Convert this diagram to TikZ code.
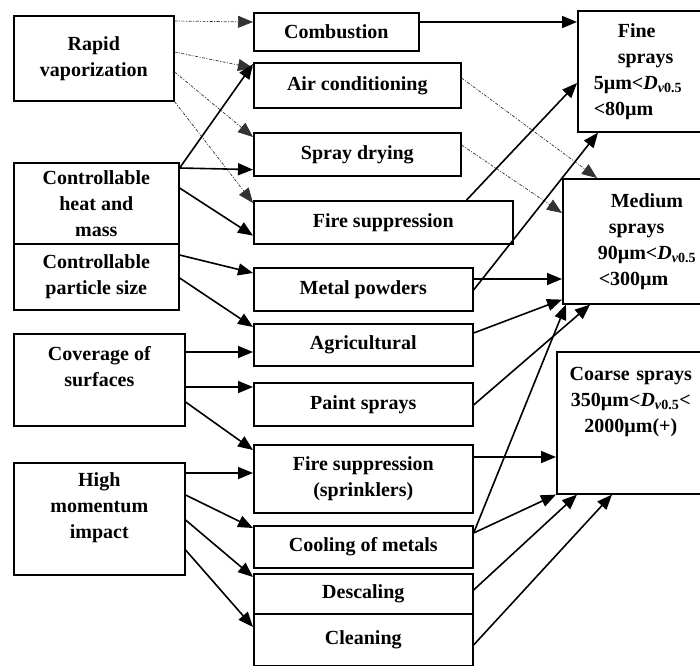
\documentclass[tikz,border=0pt]{standalone}
\usepackage{fontspec}
\setmainfont{Liberation Serif}
\usepackage{tikz}
\usetikzlibrary{
  arrows.meta}

\newcommand{\Dvol}{\textit{D}\textsubscript{\textit{v}0.5}}

\tikzset{
  plainbox/.style={draw, line width=1.6pt, inner sep=2pt, anchor=north west,
    align=center, font=\bfseries\fontsize{20}{26}\selectfont},
  feed/.style={-{Triangle[length=15pt,width=12pt]}, line width=1.6pt},
  vapfeed/.style={feed, line width=0.7pt, black!80,
    dash pattern=on 3pt off 1.5pt on 1pt off 1.5pt}}

\begin{document}
\begin{tikzpicture}[x=1pt,y=-1pt]
  \useasboundingbox (0,0) rectangle (700,665);

  \node[plainbox, minimum width=160pt, minimum height=85pt] (rapid) at (13,15) {Rapid\\vaporization};
  \node[plainbox, minimum width=165pt, minimum height=81pt] (heat) at (13,162) {Controllable\\heat and\\mass};
  \node[plainbox, minimum width=165pt, minimum height=66pt] (psize) at (13,243) {Controllable\\particle size};
  \node[plainbox, minimum width=171pt, minimum height=92pt] (cover) at (13,333) {Coverage of\\surfaces\\ \mbox{}};
  \node[plainbox, minimum width=171pt, minimum height=112pt] (impact) at (13,462) {High\\momentum\\impact\\ \mbox{}};

  \node[plainbox, minimum width=165pt, minimum height=38pt] (comb) at (253,12) {Combustion};
  \node[plainbox, minimum width=207pt, minimum height=45pt] (air) at (253,62) {Air conditioning};
  \node[plainbox, minimum width=207pt, minimum height=43pt] (spraydry) at (253,132) {Spray drying};
  \node[plainbox, minimum width=259pt, minimum height=43pt] (fire) at (253,200) {Fire suppression};
  \node[plainbox, minimum width=219pt, minimum height=43pt] (metal) at (253,267) {Metal powders};
  \node[plainbox, minimum width=219pt, minimum height=42pt] (agri) at (253,323) {Agricultural};
  \node[plainbox, minimum width=219pt, minimum height=43pt] (paint) at (253,382) {Paint sprays};
  \node[plainbox, minimum width=219pt, minimum height=68pt] (sprink) at (253,444) {Fire suppression\\(sprinklers)};
  \node[plainbox, minimum width=219pt, minimum height=42pt] (cool) at (253,525) {Cooling of metals};
  \node[plainbox, minimum width=219pt, minimum height=40pt] (desc) at (253,573) {Descaling};
  \node[plainbox, minimum width=219pt, minimum height=52pt] (clean) at (253,613) {Cleaning};

  \node[plainbox, align=left, text width=120pt, inner xsep=16pt, minimum height=121pt] (fine) at (577,10)
    {\hspace*{24pt}Fine\\\hspace*{24pt}sprays\\5µm<\Dvol\\<80µm};
  \node[plainbox, align=left, text width=110pt, inner xsep=35pt, minimum height=125pt] (med) at (562,178)
    {\hspace*{13pt}Medium\\\hspace*{11pt}sprays\\90µm<\Dvol\\\hspace*{1pt}<300µm};
  \node[plainbox, text width=136pt, inner xsep=6pt, minimum height=142pt] (coarse) at (556,351)
    {Coarse sprays\\350µm<\Dvol<\\2000µm(+)\\[20pt]\mbox{}};

  % rapid vaporization
  \draw[vapfeed] ([yshift=-6pt]rapid.north east) -- ([yshift=-10pt]comb.north west);
  \draw[vapfeed] ([yshift=-37pt]rapid.north east) -- ([yshift=-6pt]air.north west);
  \draw[vapfeed] ([yshift=-57pt]rapid.north east) -- ([yshift=-5pt]spraydry.north west);
  \draw[vapfeed] (rapid.south east) -- ([yshift=-3pt]fire.north west);

  \draw[feed] ([yshift=-6pt]heat.north east) -- ([yshift=-2pt]air.north west);
  \draw[feed] ([yshift=-6pt]heat.north east) -- ([yshift=7pt]spraydry.south west);
  \draw[feed] ([yshift=-26pt]heat.north east) -- ([yshift=9pt]fire.south west);

  \draw[feed] ([yshift=-12pt]psize.north east) -- ([yshift=-6pt]metal.north west);
  \draw[feed] ([yshift=-35pt]psize.north east) -- ([yshift=-4pt]agri.north west);

  \draw[feed] ([yshift=-19pt]cover.north east) -- ([yshift=-29pt]agri.north west);
  \draw[feed] ([yshift=-54pt]cover.north east) -- ([yshift=-5pt]paint.north west);
  \draw[feed] ([yshift=-69pt]cover.north east) -- ([yshift=-6pt]sprink.north west);

  \draw[feed] ([yshift=-11pt]impact.north east) -- ([yshift=-29pt]sprink.north west);
  \draw[feed] ([yshift=-33pt]impact.north east) -- ([yshift=-3pt]cool.north west);
  \draw[feed] ([yshift=-58pt]impact.north east) -- ([yshift=-4pt]desc.north west);
  \draw[feed] ([yshift=-88pt]impact.north east) -- ([yshift=-14pt]clean.north west);

  % applications to drop sizes
  \draw[feed] ([yshift=-10pt]comb.north east) -- ([yshift=-12pt]fine.north west);
  \draw[vapfeed] ([yshift=-16pt]air.north east) -- ([xshift=35pt]med.north west);
  \draw[vapfeed] ([yshift=-13pt]spraydry.north east) -- ([yshift=-35pt]med.north west);
  \draw[feed] ([xshift=-47pt]fire.north east) -- ([yshift=-73pt]fine.north west);
  \draw[feed] ([yshift=-23pt]metal.north east) -- ([xshift=21pt]fine.south west);
  \draw[feed] ([yshift=-12pt]metal.north east) -- ([yshift=-101pt]med.north west);
  \draw[feed] ([yshift=-10pt]agri.north east) -- ([yshift=5pt]med.south west);
  \draw[feed] ([yshift=-23pt]paint.north east) -- ([xshift=28pt]med.south west);
  \draw[feed] ([yshift=-8pt]cool.north east) -- ([xshift=4pt]med.south west);
  \draw[feed] ([yshift=-13pt]sprink.north east) -- ([yshift=-106pt]coarse.north west);
  \draw[feed] ([yshift=-8pt]cool.north east) -- (coarse.south west);
  \draw[feed] ([yshift=-17pt]desc.north east) -- ([xshift=21pt]coarse.south west);
  \draw[feed] ([yshift=-32pt]clean.north east) -- ([xshift=56pt]coarse.south west);
\end{tikzpicture}
\end{document}
